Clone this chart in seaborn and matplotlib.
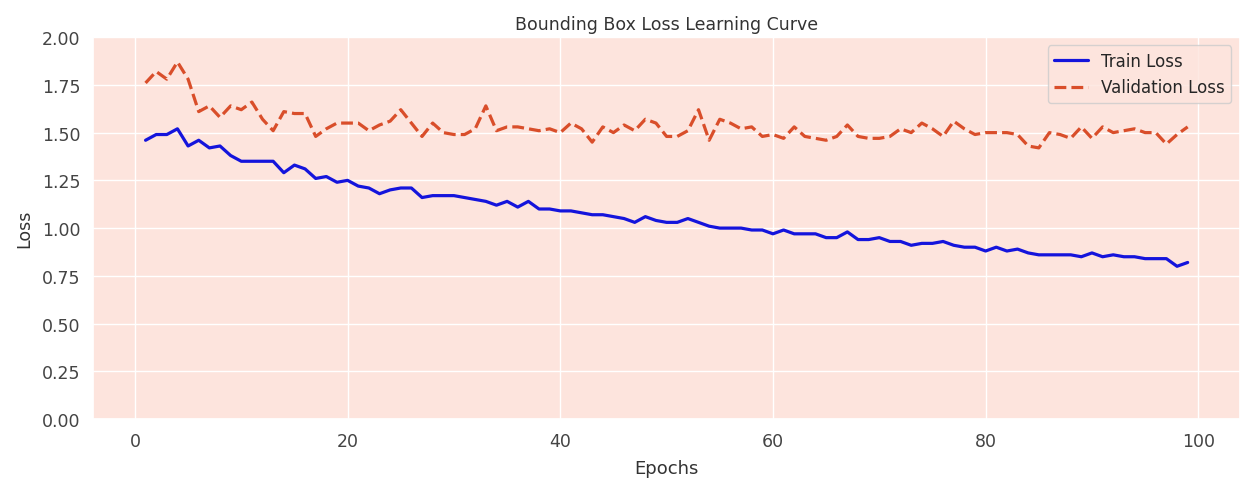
import seaborn as sns
import matplotlib.pyplot as plt
import numpy as np
import pandas as pd

# loss per epoch
epochs = list(range(1, 100))
train_loss = [
    1.46, 1.49, 1.49, 1.52, 1.43, 1.46, 1.42, 1.43, 1.38, 1.35,
    1.35, 1.35, 1.35, 1.29, 1.33, 1.31, 1.26, 1.27, 1.24, 1.25,
    1.22, 1.21, 1.18, 1.20, 1.21, 1.21, 1.16, 1.17, 1.17, 1.17,
    1.16, 1.15, 1.14, 1.12, 1.14, 1.11, 1.14, 1.10, 1.10, 1.09,
    1.09, 1.08, 1.07, 1.07, 1.06, 1.05, 1.03, 1.06, 1.04, 1.03,
    1.03, 1.05, 1.03, 1.01, 1.00, 1.00, 1.00, 0.99, 0.99, 0.97,
    0.99, 0.97, 0.97, 0.97, 0.95, 0.95, 0.98, 0.94, 0.94, 0.95,
    0.93, 0.93, 0.91, 0.92, 0.92, 0.93, 0.91, 0.90, 0.90, 0.88,
    0.90, 0.88, 0.89, 0.87, 0.86, 0.86, 0.86, 0.86, 0.85, 0.87,
    0.85, 0.86, 0.85, 0.85, 0.84, 0.84, 0.84, 0.80, 0.82]
val_loss = [
    1.76, 1.82, 1.78, 1.87, 1.78, 1.61, 1.64, 1.58, 1.64, 1.62,
    1.66, 1.57, 1.51, 1.61, 1.60, 1.60, 1.48, 1.52, 1.55, 1.55,
    1.55, 1.51, 1.54, 1.56, 1.62, 1.55, 1.48, 1.55, 1.50, 1.49,
    1.49, 1.52, 1.64, 1.51, 1.53, 1.53, 1.52, 1.51, 1.52, 1.50,
    1.55, 1.52, 1.45, 1.53, 1.50, 1.54, 1.51, 1.57, 1.55, 1.48,
    1.48, 1.51, 1.62, 1.46, 1.57, 1.55, 1.52, 1.53, 1.48, 1.49,
    1.47, 1.53, 1.48, 1.47, 1.46, 1.48, 1.54, 1.48, 1.47, 1.47,
    1.48, 1.52, 1.50, 1.55, 1.52, 1.48, 1.56, 1.52, 1.49, 1.50,
    1.50, 1.50, 1.49, 1.43, 1.42, 1.50, 1.49, 1.47, 1.53, 1.47,
    1.53, 1.50, 1.51, 1.52, 1.50, 1.50, 1.44, 1.49, 1.53]

df_loss = pd.DataFrame({'Epochs': epochs, 'Train Loss': train_loss, 'Validation Loss': val_loss})

sns.set_theme(style='darkgrid', rc={'axes.facecolor': '#fde4dd'})

fig, ax = plt.subplots(figsize=(12.46, 4.89), dpi=100)
sns.lineplot(data=df_loss, x='Epochs', y='Train Loss', ax=ax, color='#1414dc',
             linewidth=2.3, label='Train Loss')
sns.lineplot(data=df_loss, x='Epochs', y='Validation Loss', ax=ax, color='#d94e2a',
             linewidth=2.3, linestyle='--', label='Validation Loss')
ax.set_ylim(0, 2.0)
ax.set_yticks(np.arange(0, 2.01, 0.25))
ax.set_title('Bounding Box Loss Learning Curve', fontsize=12.5, color='#333333')
ax.set_xlabel('Epochs', fontsize=13, color='#333333', labelpad=6)
ax.set_ylabel('Loss', fontsize=12.5, color='#333333', labelpad=6)
ax.tick_params(labelsize=12.5, colors='#444444')
ax.legend(loc='upper right', fontsize=12)
plt.subplots_adjust(left=0.075, right=0.995, top=0.922, bottom=0.141)
plt.savefig('out.png', dpi=100)
